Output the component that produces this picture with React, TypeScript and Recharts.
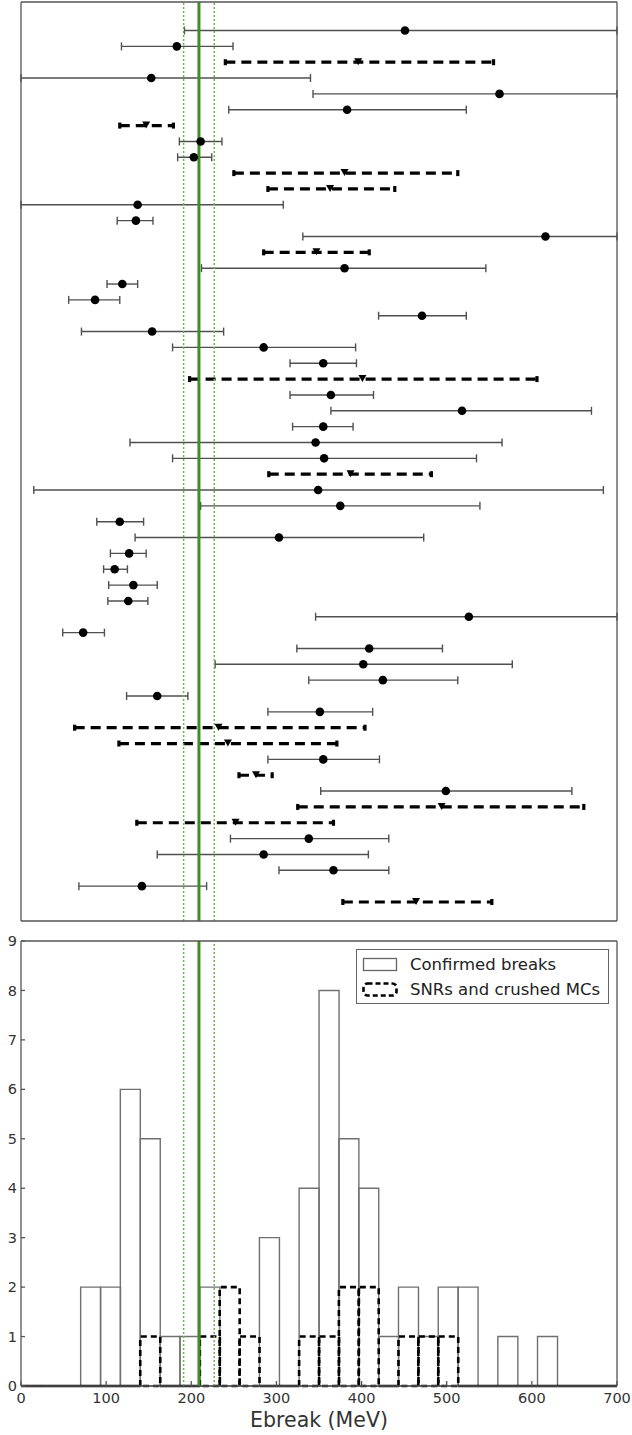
import React from 'react';
import {
  ScatterChart,
  Scatter,
  ErrorBar,
  XAxis,
  YAxis,
  ReferenceLine,
  ComposedChart,
  Bar,
  Legend,
} from 'recharts';

if (typeof document !== 'undefined') document.body.style.margin = '0';

// Top panel, one entry per source, listed top to bottom (MeV)
const ebreak = [
  451, 183, 396, 153, 562, 383, 147, 211, 203, 380, 363, 137, 135, 616, 347, 380, 119, 87, 471,
  154, 285, 355, 401, 364, 518, 355, 346, 356, 387, 349, 375, 116, 303, 127, 110, 132, 126, 526,
  73, 409, 402, 425, 160, 351, 232, 243, 355, 276, 499, 494, 252, 338, 285, 367, 142, 464,
];
const errLow = [
  192, 118, 240, -40, 343, 244, 116, 186, 184, 250, 290, -40, 113, 331, 285, 212, 101, 56, 420,
  71, 178, 316, 198, 316, 364, 319, 128, 178, 291, 15, 211, 89, 134, 105, 97, 103, 102, 346,
  49, 324, 228, 338, 124, 290, 63, 115, 290, 256, 352, 325, 136, 246, 160, 303, 68, 378,
];
const errHigh = [
  760, 249, 555, 340, 760, 523, 179, 236, 224, 513, 439, 308, 155, 760, 409, 546, 137, 116, 523,
  238, 393, 394, 606, 414, 670, 390, 565, 535, 482, 684, 539, 144, 473, 147, 125, 160, 149, 760,
  98, 495, 577, 513, 196, 413, 404, 371, 421, 295, 647, 661, 367, 432, 408, 432, 218, 553,
];
// 1 = SNR / crushed MC (dashed), 0 = confirmed break
const isSnr = [
  0, 0, 1, 0, 0, 0, 1, 0, 0, 1, 1, 0, 0, 0, 1, 0, 0, 0, 0,
  0, 0, 0, 1, 0, 0, 0, 0, 0, 1, 0, 0, 0, 0, 0, 0, 0, 0, 0,
  0, 0, 0, 0, 0, 0, 1, 1, 0, 1, 0, 1, 1, 0, 0, 0, 0, 1,
];

// Bottom panel histogram (bin centres, MeV)
const binCenter = [
  11.7, 35, 58.3, 81.7, 105, 128.3, 151.7, 175, 198.3, 221.7, 245, 268.3, 291.7, 315, 338.3,
  361.7, 385, 408.3, 431.7, 455, 478.3, 501.7, 525, 548.3, 571.7, 595, 618.3, 641.7, 665, 688.3,
];
const confirmedCounts = [0, 0, 0, 2, 2, 6, 5, 1, 1, 2, 0, 0, 3, 0, 4, 8, 5, 4, 1, 2, 1, 2, 2, 0, 1, 0, 1, 0, 0, 0];
const snrCounts = [0, 0, 0, 0, 0, 0, 1, 0, 0, 1, 2, 1, 0, 0, 1, 1, 2, 2, 0, 1, 1, 1, 0, 0, 0, 0, 0, 0, 0, 0];

const xTicks = [0, 100, 200, 300, 400, 500, 600, 700];
const rowTicks = [-0.2, 9.8, 19.8, 29.8, 39.8, 49.8];
const countTicks = [0, 1, 2, 3, 4, 5, 6, 7, 8, 9];
const ebreakMean = 209;
const ebreakBand = [191, 227];
const X_DOMAIN: [number, number] = [0, 700];

const FONT = 'DejaVu Sans, sans-serif';
const AXIS = '#555';
const GREEN = '#3f8d24';
const LIGHT_GREEN = '#6ab44c';

// error bars are cut at the frame, like the original plot
const rows = ebreak.map((e, i) => {
  const lo = Math.max(X_DOMAIN[0], errLow[i]);
  const hi = Math.min(X_DOMAIN[1], errHigh[i]);
  return { x: e, y: ebreak.length - 1 - i, err: [e - lo, hi - e] };
});
const confirmedRows = rows.filter((_, i) => !isSnr[i]);
const snrRows = rows.filter((_, i) => isSnr[i]);

const histData = binCenter.map((c, i) => ({
  e: c,
  confirmed: confirmedCounts[i],
  snr: snrCounts[i],
}));

const dot = (p: any) => <circle cx={p.cx} cy={p.cy} r={4.3} fill="#000" />;
const tri = (p: any) => (
  <path d={`M${p.cx - 4},${p.cy - 4}L${p.cx + 4},${p.cy - 4}L${p.cx},${p.cy + 3}Z`} fill="#000" />
);

const outline = (stroke: string, sw: number, dash?: string) => (p: any) => {
  const { x, y, width, height } = p;
  if (x == null || y == null) return <g />;
  const h = height || 0;
  return (
    <path
      d={`M${x},${y + h}V${y}H${x + width}V${y + h}Z`}
      fill="none"
      stroke={stroke}
      strokeWidth={sw}
      strokeDasharray={dash}
    />
  );
};

const renderLegend = (props: any) => {
  const items = props.payload ?? [];
  return (
    <div
      style={{
        width: 253,
        height: 55,
        boxSizing: 'border-box',
        border: '1px solid #666',
        background: '#fff',
        position: 'relative',
        fontFamily: FONT,
      }}
    >
      {items.map((it: any, i: number) => {
        const snr = it.dataKey === 'snr';
        return (
          <div
            key={it.value}
            style={{ position: 'absolute', left: 5, top: 7 + i * 25, display: 'flex', alignItems: 'center' }}
          >
            <svg width={36} height={15}>
              <rect
                x={1.5}
                y={1.5}
                width={33}
                height={12}
                rx={snr ? 4 : 0}
                fill="none"
                stroke={snr ? '#000' : '#666'}
                strokeWidth={snr ? 2.6 : 1.3}
                strokeDasharray={snr ? '5 3' : undefined}
              />
            </svg>
            <span style={{ marginLeft: 12, fontSize: 16.5, color: '#222', lineHeight: '15px' }}>{it.value}</span>
          </div>
        );
      })}
    </div>
  );
};

const frameX = {
  type: 'number' as const,
  domain: X_DOMAIN,
  allowDataOverflow: true,
  ticks: xTicks,
  interval: 0 as const,
  tickSize: -5,
  stroke: AXIS,
  strokeWidth: 1.3,
};

export default function App() {
  return (
    <div style={{ width: 632, height: 1435, fontFamily: FONT, background: '#fff' }}>
      <ScatterChart width={632} height={926} margin={{ top: 1, right: 14, bottom: 4, left: 20 }}>
        <XAxis dataKey="x" {...frameX} tick={false} height={1} />
        <XAxis xAxisId="top" orientation="top" {...frameX} tick={false} height={1} />
        <YAxis
          dataKey="y"
          type="number"
          domain={[-1.2, 56.8]}
          allowDataOverflow
          ticks={rowTicks}
          interval={0}
          tick={false}
          tickSize={-4}
          width={1}
          stroke={AXIS}
          strokeWidth={1.3}
        />
        <YAxis
          yAxisId="right"
          orientation="right"
          type="number"
          domain={[-1.2, 56.8]}
          allowDataOverflow
          ticks={rowTicks}
          interval={0}
          tick={false}
          tickSize={-4}
          width={1}
          stroke={AXIS}
          strokeWidth={1.3}
        />
        <Scatter data={confirmedRows} shape={dot} isAnimationActive={false}>
          <ErrorBar
            dataKey="err"
            direction="x"
            width={4}
            stroke="#505050"
            strokeWidth={1.4}
            isAnimationActive={false}
          />
        </Scatter>
        <Scatter data={snrRows} shape={tri} isAnimationActive={false}>
          <ErrorBar
            dataKey="err"
            direction="x"
            width={3}
            stroke="#000"
            strokeWidth={3.2}
            strokeDasharray="10 6"
            isAnimationActive={false}
          />
        </Scatter>
        <ReferenceLine x={ebreakBand[0]} stroke={LIGHT_GREEN} strokeWidth={1.5} strokeDasharray="2 2" />
        <ReferenceLine x={ebreakBand[1]} stroke={LIGHT_GREEN} strokeWidth={1.5} strokeDasharray="2 2" />
        <ReferenceLine x={ebreakMean} stroke={GREEN} strokeWidth={3} />
      </ScatterChart>

      <ComposedChart
        width={632}
        height={509}
        data={histData}
        margin={{ top: 14, right: 14, bottom: 0, left: 0 }}
        barCategoryGap={0}
        barGap={0}
      >
        <XAxis
          dataKey="e"
          {...frameX}
          tickMargin={12}
          height={49}
          tick={{ fontSize: 14.5, fill: '#333', fontFamily: FONT }}
          label={{
            value: 'Ebreak (MeV)',
            position: 'insideBottom',
            offset: 8,
            style: { fontSize: 20.5, fill: '#333', fontFamily: FONT },
          }}
        />
        <XAxis xAxisId="top" orientation="top" {...frameX} tick={false} height={1} />
        <XAxis xAxisId="snr" dataKey="e" type="number" domain={X_DOMAIN} allowDataOverflow hide height={0} />
        <YAxis
          type="number"
          domain={[0, 9]}
          ticks={countTicks}
          interval={0}
          tickSize={-4}
          tickMargin={8}
          width={21}
          stroke={AXIS}
          strokeWidth={1.3}
          tick={{ fontSize: 14.5, fill: '#333', fontFamily: FONT }}
        />
        <YAxis
          yAxisId="right"
          orientation="right"
          type="number"
          domain={[0, 9]}
          ticks={countTicks}
          interval={0}
          tick={false}
          tickSize={-4}
          width={1}
          stroke={AXIS}
          strokeWidth={1.3}
        />
        <Bar
          dataKey="confirmed"
          name="Confirmed breaks"
          shape={outline('#707070', 1.4)}
          isAnimationActive={false}
        />
        <Bar
          xAxisId="snr"
          dataKey="snr"
          name="SNRs and crushed MCs"
          shape={outline('#000', 2.6, '6 4')}
          isAnimationActive={false}
        />
        <ReferenceLine x={ebreakBand[0]} stroke={LIGHT_GREEN} strokeWidth={1.5} strokeDasharray="2 2" />
        <ReferenceLine x={ebreakBand[1]} stroke={LIGHT_GREEN} strokeWidth={1.5} strokeDasharray="2 2" />
        <ReferenceLine x={ebreakMean} stroke={GREEN} strokeWidth={3} />
        <Legend
          layout="horizontal"
          verticalAlign="middle"
          align="center"
          content={renderLegend}
          wrapperStyle={{ left: 356, top: 23, width: 253, height: 55 }}
        />
      </ComposedChart>
    </div>
  );
}
